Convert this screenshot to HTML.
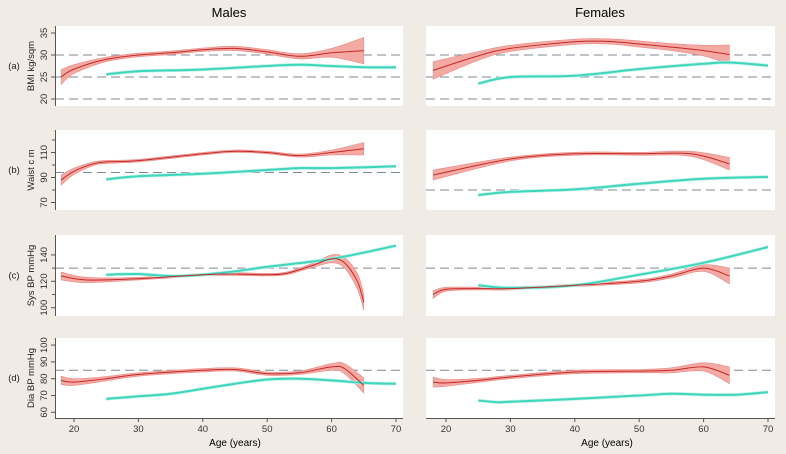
<!DOCTYPE html>
<html><head><meta charset="utf-8"><style>
body{margin:0;background:#f1ebe6;font-family:"Liberation Sans",sans-serif;}
svg{display:block}
</style></head><body>
<svg id="c" width="786" height="454">
<text x="229" y="17" font-size="13" text-anchor="middle">Males</text>
<text x="600" y="17" font-size="13" text-anchor="middle">Females</text>
<text x="235" y="446" font-size="10" text-anchor="middle">Age (years)</text>
<text x="607" y="446" font-size="10" text-anchor="middle">Age (years)</text>
</svg>
<script>
const xTicks=[20,30,40,50,60,70];
const panelLetters=["(a)","(b)","(c)","(d)"];
const panelTitles=["BMI kg/sqm","Waist c m","Sys BP mmHg","Dia BP mmHg"];
const yTickLabels=[[20,25,30,35],[70,90,110],[100,120,140],[60,70,80,90,100]];
const yMinorTicks=[[],[80,100,120],[110,130],[]];
const maleCut=[[20,25,30],[94],[130],[85]];
const femaleCut=[[20,25,30],[80],[130],[85]];
// male red
const mrAge=[[18,20,25,30,35,40,45,50,55,60,65],[18,20,23,25,30,40,45,50,55,60,65],[18,22,30,40,45,50,53,57,60,62,64,65],[18,20,25,30,40,45,50,55,60,62,65]];
const mrVal=[[25,26.8,29,30,30.5,31.2,31.5,30.7,29.7,30.5,31],[88,95,101,102.5,103.5,109,111,110,107.5,110,113],[124,121,122,125,125.5,125,126,132,137,134,120,104],[79,78,80,82.5,85,85.5,83,83.5,87,86,76]];
const mrSe=[[1.7,1,0.5,0.4,0.4,0.4,0.5,0.5,0.6,1,3],[4,2.5,1.5,1.2,1,1,1,1,1.2,2,5],[3,2,1,1,1,1,1,1.5,3,4,6,6],[2.5,2,1.3,1,1,1,1,1,2,3,4.5]];
// male teal
const mtAge=[[25,30,40,50,55,60,65,70],[25,30,40,50,55,60,70],[25,30,35,40,45,50,60,70],[25,30,35,40,45,50,55,60,65,70]];
const mtVal=[[25.6,26.3,26.7,27.5,27.8,27.5,27.2,27.2],[88.5,91,93,96,97.5,97.5,99],[125,125.5,124,125,127.5,131,137,147],[68,69.5,71,74,77,79.5,80,79,77.5,77]];
// female red
const frAge=[[18,25,30,40,45,50,55,60,64],[18,30,40,50,58,64],[18,20,25,30,40,50,55,60,64],[18,20,25,30,40,50,55,60,64]];
const frVal=[[26.5,29.8,31.5,33,33.1,32.5,31.8,31,30.1],[92,104.8,109,109,109,101],[110,114,114.5,114.5,117,120,124,130,124],[78,77.5,79,81,84,84.5,85,87,82]];
const frSe=[[2,1,0.7,0.6,0.6,0.7,0.8,1.2,2.2],[4,1.5,1.2,1.2,2,5],[3,1.5,1,1,1,1.2,1.5,2.5,6],[3,2,1.2,1,1,1,1.5,2.5,5]];
// female teal
const ftAge=[[25,30,40,50,60,64,70],[25,30,40,50,60,70],[25,30,40,50,60,70],[25,28,30,40,50,55,60,65,70]];
const ftVal=[[23.5,25,25.3,26.8,28,28.3,27.6],[76,78.5,80.5,85,89,90.5],[117,115,117,125,134,146],[67,66,66.3,68,70,71,70.5,70.5,72]];

const panels=[{top:26,bot:106,v0:20,p0:99,k:4.4},{top:130,bot:210,v0:70,p0:202.5,k:1.25},{top:235,bot:316,v0:100,p0:307.7,k:1.32},{top:338,bot:418,v0:60,p0:412.3,k:1.68}];
const NS="http://www.w3.org/2000/svg";
const svg=document.getElementById('c');
function mk(t,a,p){const e=document.createElementNS(NS,t);for(const k in a)e.setAttribute(k,a[k]);(p||svg).appendChild(e);return e;}
function xs(side){return side===0?(a=>74+(a-20)*6.44):(a=>446+(a-20)*6.44);}
function cr(pts){let d="M"+pts[0][0].toFixed(1)+","+pts[0][1].toFixed(1);for(let i=0;i<pts.length-1;i++){const p0=pts[i-1]||pts[i],p1=pts[i],p2=pts[i+1],p3=pts[i+2]||p2;d+="C"+(p1[0]+(p2[0]-p0[0])/6).toFixed(1)+","+(p1[1]+(p2[1]-p0[1])/6).toFixed(1)+" "+(p2[0]-(p3[0]-p1[0])/6).toFixed(1)+","+(p2[1]-(p3[1]-p1[1])/6).toFixed(1)+" "+p2[0].toFixed(1)+","+p2[1].toFixed(1);}return d;}
function crCont(pts){return cr(pts).replace(/^M/,"L");}
for(let i=0;i<4;i++){
 const P=panels[i];const ys=v=>P.p0-(v-P.v0)*P.k;
 for(let s=0;s<2;s++){
  const X=xs(s);const x0=s===0?55:426,x1=s===0?403:775;
  const g=mk('g',{});
  
  
  const bg=mk('rect',{x:x0,y:P.top,width:x1-x0,height:P.bot-P.top,fill:'#fff'},g);
  
  const cuts=s===0?maleCut[i]:femaleCut[i];
  cuts.forEach(c=>{const l=mk('line',{x1:x0,x2:x1,y1:ys(c),y2:ys(c),stroke:'#7d8a96','stroke-width':1,'stroke-dasharray':'9,5'},g);});
  const rA=s===0?mrAge[i]:frAge[i],rV=s===0?mrVal[i]:frVal[i],rS=s===0?mrSe[i]:frSe[i];
  const up=rA.map((a,j)=>[X(a),ys(rV[j]+rS[j])]),lo=rA.map((a,j)=>[X(a),ys(rV[j]-rS[j])]).reverse();
  const band=mk('path',{d:cr(up)+crCont(lo)+"Z",fill:'#f4a9a3',stroke:'#e98a85','stroke-width':0.6},g);
  
  const tA=s===0?mtAge[i]:ftAge[i],tV=s===0?mtVal[i]:ftVal[i];
  const tp=tA.map((a,j)=>[X(a),ys(tV[j])]);
  mk('path',{d:cr(tp),fill:'none',stroke:'#bff2e8','stroke-width':3.5},g);
  const tl=mk('path',{d:cr(tp),fill:'none',stroke:'#3fd6bd','stroke-width':2},g);
  
  const rl=mk('path',{d:cr(rA.map((a,j)=>[X(a),ys(rV[j])])),fill:'none',stroke:'#c42828','stroke-width':1},g);
  
  if(i===3){
   const ax=mk('line',{x1:x0,x2:x1,y1:418.5,y2:418.5,stroke:'#555','stroke-width':1},g);
   
   xTicks.forEach(t=>{mk('line',{x1:X(t),x2:X(t),y1:418.5,y2:422,stroke:'#555'},g);
    const tx=mk('text',{x:X(t),y:432,'font-size':9.5,'text-anchor':'middle',fill:'#333'},g);tx.textContent=t;
    });
  }
 }
 const ax=mk('line',{x1:55.5,x2:55.5,y1:P.top,y2:P.bot,stroke:'#555'});
 
 yTickLabels[i].forEach(t=>{const y=ys(t);mk('line',{x1:51,x2:55.5,y1:y,y2:y,stroke:'#555'});
  const tx=mk('text',{x:0,y:0,'font-size':9.5,'text-anchor':'middle',fill:'#333',transform:`translate(47,${y}) rotate(-90)`});tx.textContent=t;
  });
 yMinorTicks[i].forEach(t=>{const y=ys(t);mk('line',{x1:52,x2:55.5,y1:y,y2:y,stroke:'#555'});});
 const mid=(P.top+P.bot)/2;
 const yl=mk('text',{x:0,y:0,'font-size':9.5,'text-anchor':'middle',fill:'#222',transform:`translate(34,${mid}) rotate(-90)`});yl.textContent=panelTitles[i];
 
 const lt=mk('text',{x:14,y:mid+3,'font-size':9.5,'text-anchor':'middle',fill:'#222'});lt.textContent=panelLetters[i];
 
}
</script>
</body></html>
